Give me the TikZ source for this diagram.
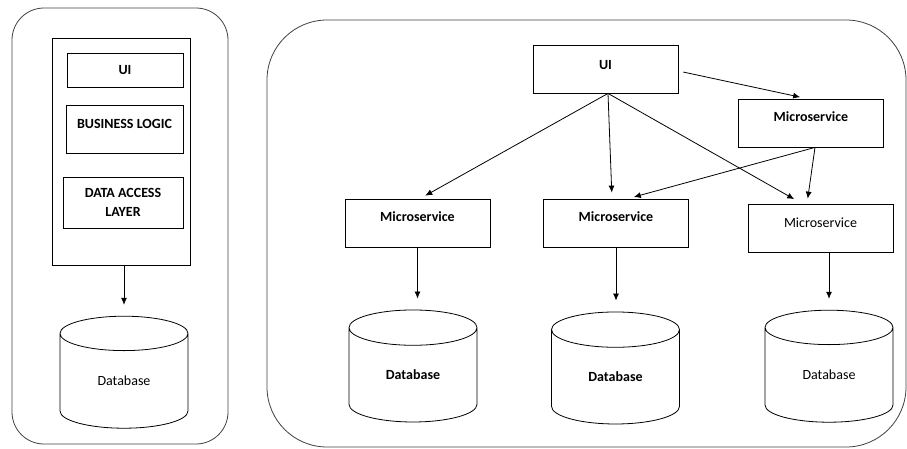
\documentclass[tikz,border=0pt]{standalone}
\usepackage{fontspec}
\setmainfont{Carlito}
\usetikzlibrary{shapes.geometric,arrows.meta}

\newcommand{\diagfont}{\fontsize{14}{16.5}\selectfont}
\tikzset{
  box/.style={draw, rectangle, inner sep=0pt, font=\diagfont\bfseries},
  svc/.style={box, minimum width=145, minimum height=48, text height=10pt, text depth=13pt},
  db/.style={draw, cylinder, shape border rotate=90, aspect=0.65, minimum width=128, minimum height=112, inner sep=0pt, font=\diagfont},
  frame/.style={draw=black!75, line width=0.8pt},
}

\begin{document}
\begin{tikzpicture}[x=1pt, y=-1pt, >={Latex[length=7pt,width=6pt]}, line width=0.8pt]
\useasboundingbox (0,0) rectangle (907,448);

% monolith
\draw[frame, rounded corners=32] (12,8) rectangle (228,444);
\node[draw, minimum width=138, minimum height=227] (app) at (121,151.5) {};
\node[box, minimum width=116, minimum height=34] (lui) at (125,70) {UI};
\node[box, minimum width=117, minimum height=48, text height=10pt, text depth=11pt] (biz) at (124.5,129) {BUSINESS LOGIC};
\node[box, minimum width=120, minimum height=51, align=center] (dal) at (123,202.5) {DATA ACCESS\\[3pt]LAYER};
\node[db] (db0) at (124,381) {Database};
\draw[->, shorten >=11pt] (db0.north |- app.south) -- (db0.north);

% microservices
\draw[frame, rounded corners=60] (267,20) rectangle (906,447);
\node[svc, text depth=9pt] (ui) at (605.5,69) {UI};
\node[svc] (mstop) at (811,123) {Microservice};
\node[svc] (ms1) at (417.5,223) {Microservice};
\node[svc] (ms2) at (616,223) {Microservice};
\node[svc, text depth=11pt, font=\diagfont] (ms3) at (820.5,228) {Microservice};
\node[db, font=\diagfont\bfseries] (db1) at (413,375) {Database};
\node[db, font=\diagfont\bfseries] (db2) at (615.5,377) {Database};
\node[db] (db3) at (829,375) {Database};

\draw[->, shorten >=6pt] ([xshift=2.5pt]ui.south) -- ([xshift=2.5pt]ms1.north);
\draw[->, shorten >=6pt] ([xshift=2.5pt]ui.south) -- ([xshift=-4pt]ms2.north);
\draw[->, shorten >=9pt] ([xshift=2.5pt]ui.south) -- ([xshift=-18.5pt]ms3.north);
\draw[->, shorten <=5pt, shorten >=7pt] ([yshift=-2pt]ui.east) -- ([xshift=-4pt]mstop.north);
\draw[->, shorten >=6pt] ([xshift=4pt]mstop.south) -- ([xshift=12pt]ms2.north);
\draw[->, shorten >=5pt] ([xshift=4pt]mstop.south) -- ([xshift=-13.5pt]ms3.north);

\draw[->, shorten >=11pt] (ms1) -- (ms1 |- db1.north);
\draw[->, shorten >=11pt] (ms2) -- (ms2 |- db2.north);
\draw[->, shorten >=11pt] (db3.north |- ms3.south) -- (db3.north);
\end{tikzpicture}
\end{document}
